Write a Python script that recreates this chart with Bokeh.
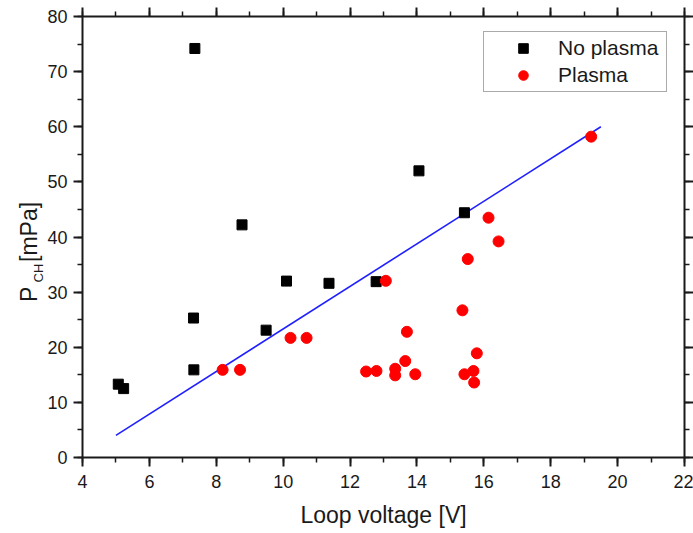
import math
from bokeh.plotting import figure
from bokeh.layouts import row
from bokeh.models import (LinearAxis, SingleIntervalTicker, Range1d, Legend,
                          LegendItem, CustomJSTickFormatter)
from bokeh.core.properties import value
from bokeh.embed import file_html
from bokeh.resources import INLINE

# ---- data ----
no_plasma_v = [5.07, 5.23, 7.36, 7.32, 7.33, 8.77, 9.49, 10.10, 11.37, 12.78, 14.06, 15.42]
no_plasma_p = [13.3, 12.5, 74.2, 25.3, 15.9, 42.2, 23.1, 32.0, 31.6, 31.9, 52.0, 44.4]

plasma_v = [8.19, 8.71, 10.22, 10.70, 12.48, 12.79, 13.07, 13.35, 13.35, 13.65, 13.70,
            13.95, 15.36, 15.42, 15.52, 15.69, 15.71, 15.79, 16.14, 16.44, 19.21]
plasma_p = [15.9, 15.9, 21.7, 21.7, 15.6, 15.7, 32.05, 16.1, 14.9, 17.5, 22.8,
            15.1, 26.7, 15.1, 36.0, 15.7, 13.6, 18.9, 43.5, 39.2, 58.2]

fit_v = [5.0, 19.5]
fit_p = [4.0, 60.0]

series_names = ["No plasma", "Plasma"]
x_title = "Loop voltage [V]"
y_title_main = "P"
y_title_sub = "CH"
y_title_unit = "[mPa]"

FONT = "Liberation Sans"
INK = "#1a1a1a"

# ---- narrow strip holding the y-axis title (P with subscript CH) ----
# its frame is aligned with the main frame (pixel rows 16..457), so the
# strip's y range is expressed in canvas pixels for convenience
LW = 44
side = figure(width=LW, height=533, output_backend="svg", toolbar_location=None,
              x_range=Range1d(0, LW), y_range=Range1d(457, 16),
              x_axis_location=None, y_axis_location=None, title=None,
              min_border=0, min_border_left=0, min_border_right=0,
              min_border_top=0, min_border_bottom=0)
side.grid.visible = False
side.outline_line_color = None
side.background_fill_color = "white"
side.border_fill_color = "white"
side.text(x=[28.5], y=[301.5], text=[y_title_main], angle=math.pi / 2,
          text_font=value(FONT), text_font_size="23px", text_color=INK,
          text_align="left", text_baseline="alphabetic")
side.text(x=[37.5], y=[282.0], text=[y_title_sub], angle=math.pi / 2,
          text_font=value(FONT), text_font_size="13px", text_color=INK,
          text_align="left", text_baseline="alphabetic")
side.text(x=[28.5], y=[261.5], text=[y_title_unit], angle=math.pi / 2,
          text_font=value(FONT), text_font_size="23px", text_color=INK,
          text_align="left", text_baseline="alphabetic")

# ---- main chart ----
p = figure(width=693 - LW, height=533, output_backend="svg", toolbar_location=None,
           x_range=Range1d(4, 22), y_range=Range1d(0, 80),
           min_border_left=82 - LW, min_border_right=9, min_border_top=16, min_border_bottom=76)
p.background_fill_color = "white"
p.border_fill_color = "white"
p.outline_line_color = None
p.xgrid.visible = False
p.ygrid.visible = False

def style_axis(ax, labels=True):
    ax.axis_line_color = INK
    ax.axis_line_width = 2
    ax.major_tick_line_color = INK
    ax.major_tick_line_width = 2
    ax.minor_tick_line_color = INK
    ax.minor_tick_line_width = 1.5
    ax.major_tick_in = 0
    ax.major_tick_out = 9
    ax.minor_tick_in = 0
    ax.minor_tick_out = 5
    ax.major_label_text_font = FONT
    ax.major_label_text_font_size = "18px"
    ax.major_label_text_color = INK
    if not labels:
        ax.formatter = CustomJSTickFormatter(code="return ''")
        ax.major_label_standoff = 0
        ax.major_label_text_font_size = "1px"

p.xaxis.ticker = SingleIntervalTicker(interval=2, num_minor_ticks=2)
p.yaxis.ticker = SingleIntervalTicker(interval=10, num_minor_ticks=2)
style_axis(p.xaxis[0])
style_axis(p.yaxis[0])
p.xaxis.major_label_standoff = 8
p.yaxis.major_label_standoff = 6
p.xaxis.axis_label = x_title
p.xaxis.axis_label_text_font = FONT
p.xaxis.axis_label_text_font_size = "23px"
p.xaxis.axis_label_text_font_style = "normal"
p.xaxis.axis_label_text_color = INK
p.xaxis.axis_label_standoff = 11

top = LinearAxis(ticker=SingleIntervalTicker(interval=2, num_minor_ticks=2))
right = LinearAxis(ticker=SingleIntervalTicker(interval=10, num_minor_ticks=2))
style_axis(top, labels=False)
style_axis(right, labels=False)
p.add_layout(top, "above")
p.add_layout(right, "right")

# fit line
p.line(fit_v, fit_p, line_color="#1f1fff", line_width=1.6)

r_np = p.scatter(no_plasma_v, no_plasma_p, marker="square", size=10,
                 fill_color="black", line_color="black")
r_p = p.scatter(plasma_v, plasma_p, marker="circle", size=11,
                fill_color="#ff0000", line_color="#ff0000")

legend = Legend(items=[LegendItem(label=series_names[0], renderers=[r_np]),
                       LegendItem(label=series_names[1], renderers=[r_p])],
                location=(401, 365))
legend.glyph_width = 70
legend.glyph_height = 24
legend.padding = 4
legend.spacing = 3
legend.margin = 0
legend.label_standoff = -3
legend.label_width = 104
legend.label_text_font = FONT
legend.label_text_font_size = "21px"
legend.label_text_color = INK
legend.border_line_color = "#555555"
legend.border_line_width = 1
legend.background_fill_color = "white"
legend.background_fill_alpha = 1
p.add_layout(legend, "center")

layout = row(side, p)
open("out.html", "w").write(file_html(layout, INLINE))
